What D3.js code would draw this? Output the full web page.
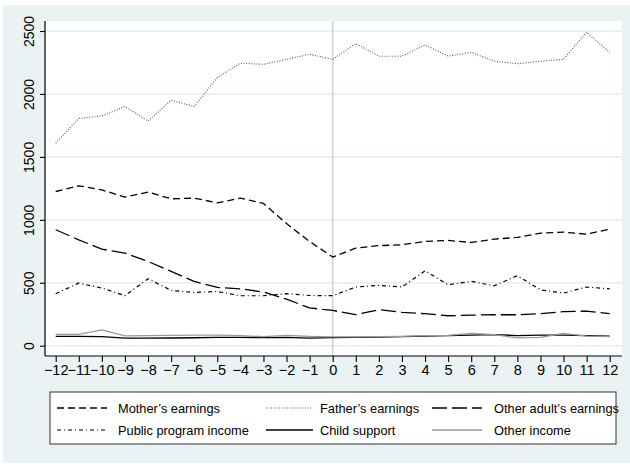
<!DOCTYPE html>
<html>
<head>
<meta charset="utf-8">
<script src="https://cdn.jsdelivr.net/npm/d3@7"></script>
<style>
  html, body { margin: 0; padding: 0; background: #ffffff; }
  svg { display: block; }
  text { font-family: "Liberation Sans", Arial, Helvetica, sans-serif; fill: #000; }
</style>
</head>
<body>
<svg id="chart" width="630" height="464"></svg>
<script>
// Months relative to the event
const months = d3.range(-12, 13);
const yTicks = [0, 500, 1000, 1500, 2000, 2500];

// Average monthly income by source
const mothersEarnings = [1225, 1270, 1238, 1180, 1220, 1167, 1172, 1135, 1172, 1130, 970, 828, 704, 775, 795, 802, 828, 836, 820, 847, 860, 894, 902, 886, 926];
const fathersEarnings = [1610, 1805, 1825, 1900, 1785, 1950, 1900, 2130, 2245, 2235, 2275, 2315, 2275, 2400, 2300, 2300, 2390, 2300, 2330, 2260, 2240, 2260, 2275, 2490, 2330];
const otherAdultEarnings = [921, 841, 767, 735, 669, 590, 511, 463, 452, 426, 370, 300, 280, 246, 286, 265, 254, 238, 243, 246, 246, 254, 270, 275, 254];
const publicProgramIncome = [413, 497, 458, 397, 532, 439, 423, 431, 397, 397, 413, 399, 397, 466, 479, 466, 595, 484, 511, 476, 556, 444, 418, 466, 452];
const childSupport = [74, 74, 72, 60, 60, 61, 63, 66, 66, 64, 66, 60, 64, 66, 68, 72, 76, 80, 84, 88, 80, 84, 84, 80, 76];
const otherIncome = [90, 90, 125, 78, 80, 82, 84, 84, 80, 72, 82, 74, 70, 70, 72, 74, 80, 82, 98, 88, 62, 66, 98, 76, 72];

const seriesNames = ["Mother’s earnings", "Father’s earnings", "Other adult’s earnings",
                     "Public program income", "Child support", "Other income"];

const series = [
  { name: seriesNames[0], values: mothersEarnings,     stroke: "#000", width: 1.3, dash: "7,4" },
  { name: seriesNames[1], values: fathersEarnings,     stroke: "#555", width: 1.1, dash: "1,1.6" },
  { name: seriesNames[2], values: otherAdultEarnings,  stroke: "#000", width: 1.3, dash: "15,5" },
  { name: seriesNames[3], values: publicProgramIncome, stroke: "#000", width: 1.2, dash: "4,3,1,3" },
  { name: seriesNames[4], values: childSupport,        stroke: "#000", width: 1.4, dash: null },
  { name: seriesNames[5], values: otherIncome,         stroke: "#999", width: 1.3, dash: null }
];

const svg = d3.select("#chart");
const W = 630, H = 464;

// Outer background
svg.append("rect").attr("x", 3).attr("y", 5).attr("width", W - 3).attr("height", H - 6)
   .attr("fill", "#eaf2f3");

// Plot region
const plot = { left: 45, right: 622, top: 21, bottom: 356 };
svg.append("rect")
   .attr("x", plot.left).attr("y", plot.top)
   .attr("width", plot.right - plot.left).attr("height", plot.bottom - plot.top)
   .attr("fill", "#ffffff");

const x = d3.scaleLinear().domain([-12, 12]).range([55.7, 609.7]);
const y = d3.scaleLinear().domain([0, 2500]).range([345.7, 31]);

// Horizontal gridlines
svg.append("g").selectAll("line").data(yTicks).join("line")
   .attr("x1", plot.left).attr("x2", plot.right)
   .attr("y1", d => y(d)).attr("y2", d => y(d))
   .attr("stroke", "#e3ecee").attr("stroke-width", 1.5);

// Reference line at month 0
svg.append("line")
   .attr("x1", x(0)).attr("x2", x(0))
   .attr("y1", plot.top).attr("y2", plot.bottom)
   .attr("stroke", "#d2d2d2").attr("stroke-width", 1.6);

// Series lines
const line = d3.line().x((d, i) => x(months[i])).y(d => y(d));
svg.append("g").selectAll("path").data(series).join("path")
   .attr("d", d => line(d.values))
   .attr("fill", "none")
   .attr("stroke", d => d.stroke)
   .attr("stroke-width", d => d.width)
   .attr("stroke-dasharray", d => d.dash)
   .attr("stroke-linejoin", "round");

// Y axis
const yAxis = svg.append("g")
   .attr("transform", `translate(${plot.left},0)`)
   .call(d3.axisLeft(y).tickValues(yTicks).tickFormat(d3.format("d"))
         .tickSize(5).tickPadding(4).tickSizeOuter(0));
yAxis.select(".domain").attr("d", `M0,${plot.top}V${plot.bottom}`).attr("stroke", "#000").attr("stroke-width", 1.2);
yAxis.selectAll(".tick line").attr("stroke", "#000").attr("stroke-width", 1.1);
yAxis.selectAll(".tick text")
   .attr("font-size", 14)
   .attr("font-family", "\"Liberation Sans\", Arial, sans-serif")
   .attr("text-anchor", "middle")
   .attr("x", null)
   .attr("y", 0)
   .attr("dy", "0")
   .attr("transform", "translate(-11,0) rotate(-90)");

// X axis
const xAxis = svg.append("g")
   .attr("transform", `translate(0,${plot.bottom})`)
   .call(d3.axisBottom(x).tickValues(months).tickSize(6).tickPadding(3).tickSizeOuter(0));
xAxis.select(".domain").attr("d", `M${plot.left},0H${plot.right}`).attr("stroke", "#000").attr("stroke-width", 1.2);
xAxis.selectAll(".tick line").attr("stroke", "#000").attr("stroke-width", 1.1);
xAxis.selectAll(".tick text")
   .attr("font-size", 14.5)
   .attr("font-family", "\"Liberation Sans\", Arial, sans-serif");

// Legend
const legend = svg.append("g");
legend.append("rect")
   .attr("x", 50).attr("y", 392).attr("width", 566).attr("height", 52)
   .attr("fill", "#ffffff").attr("stroke", "#333").attr("stroke-width", 1);

const cols = [{ lx1: 57, lx2: 107, tx: 118 }, { lx1: 266, lx2: 313, tx: 320 }, { lx1: 432, lx2: 482, tx: 494 }];
const rows = [408, 430];
series.forEach((s, i) => {
  const c = cols[i % 3], r = rows[Math.floor(i / 3)];
  legend.append("line")
     .attr("x1", c.lx1).attr("x2", c.lx2).attr("y1", r).attr("y2", r)
     .attr("stroke", s.stroke).attr("stroke-width", s.width)
     .attr("stroke-dasharray", s.dash);
  legend.append("text")
     .attr("x", c.tx).attr("y", r + 4.5)
     .attr("font-size", 12.8)
     .text(s.name);
});
</script>
</body>
</html>
